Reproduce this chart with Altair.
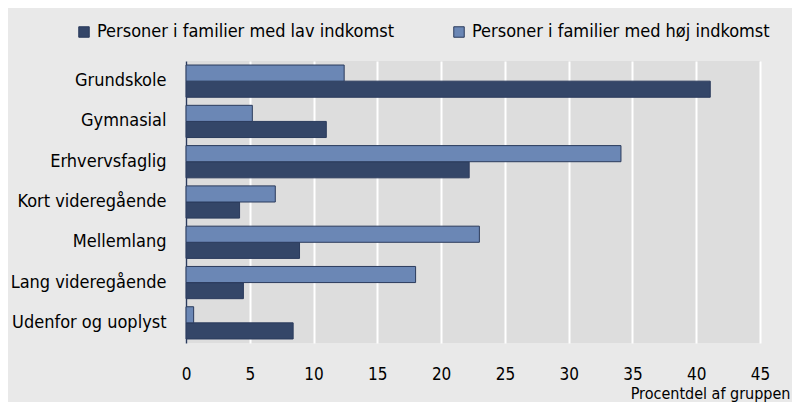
import altair as alt
import pandas as pd

categories = ["Grundskole", "Gymnasial", "Erhvervsfaglig", "Kort videregående",
              "Mellemlang", "Lang videregående", "Udenfor og uoplyst"]
low_income = [41.1, 11.0, 22.2, 4.2, 8.9, 4.5, 8.4]
high_income = [12.4, 5.2, 34.1, 7.0, 23.0, 18.0, 0.6]
series = ["Personer i familier med lav indkomst", "Personer i familier med høj indkomst"]
x_ticks = [0, 5, 10, 15, 20, 25, 30, 35, 40, 45]

rows = []
for c, lo, hi in zip(categories, low_income, high_income):
    rows.append({"Uddannelse": c, "Serie": series[0], "Værdi": lo, "ord": 1})
    rows.append({"Uddannelse": c, "Serie": series[1], "Værdi": hi, "ord": 0})
df = pd.DataFrame(rows)

FONT = "Liberation Sans Narrow, DejaVu Sans Condensed, sans-serif"

chart = alt.Chart(df).mark_bar(stroke="#2b3b5c", strokeWidth=1).encode(
    y=alt.Y("Uddannelse:N", sort=categories,
            scale=alt.Scale(paddingInner=0.2, paddingOuter=0.1),
            axis=alt.Axis(title=None, ticks=False, labelPadding=20, labelFontSize=18,
                          labelColor="#000000", domainColor="#2b3b5c", domainWidth=1.5,
                          labelFont=FONT, labelLimit=200)),
    yOffset=alt.YOffset("ord:O"),
    x=alt.X("Værdi:Q", scale=alt.Scale(domain=[0, 45], nice=False),
            axis=alt.Axis(values=x_ticks, title="Procentdel af gruppen", grid=True,
                          gridColor="#ffffff", gridWidth=2, domain=False, ticks=False,
                          labelPadding=23, labelFontSize=17, labelFont=FONT,
                          labelColor="#000000", labelFlush=False,
                          titleFont=FONT, titleFontSize=16, titleFontWeight="normal",
                          titleColor="#000000", titleAnchor="end", titleAlign="right",
                          titleX=604, titleY=50, titleBaseline="middle")),
    color=alt.Color("Serie:N", sort=series,
                    scale=alt.Scale(domain=series, range=["#344668", "#6b87b5"]),
                    legend=alt.Legend(title=None, orient="none", direction="horizontal",
                                      legendX=-111, legendY=-38,
                                      symbolType="square", symbolSize=110,
                                      symbolStrokeColor="#2b3b5c", symbolStrokeWidth=1,
                                      labelFont=FONT, labelFontSize=18,
                                      labelColor="#000000", labelLimit=400,
                                      columnPadding=56, labelOffset=4)),
).properties(
    width=574, height=282,
    autosize=alt.AutoSizeParams(type="none"),
    padding={"left": 178, "top": 53, "right": 32, "bottom": 59},
    background="#e9e9e9",
).configure_view(fill="#dddddd", stroke=None)

chart.save("out.html", embed_options={"renderer": "svg", "actions": False})
